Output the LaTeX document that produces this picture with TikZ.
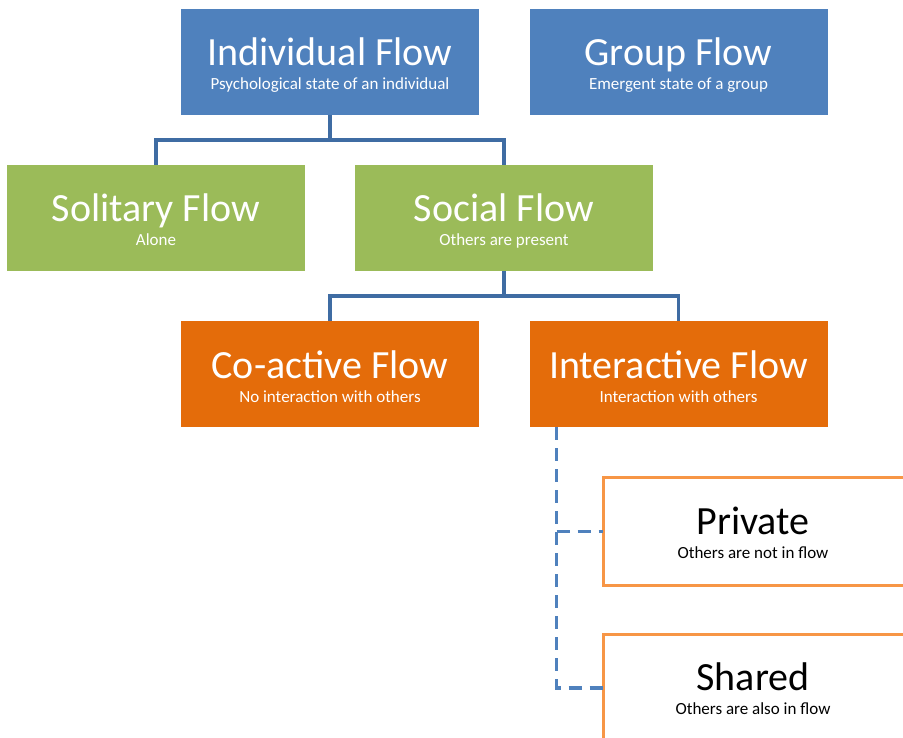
\documentclass[tikz,border=0pt]{standalone}
\usepackage{fontspec}
\setmainfont{Carlito}
\definecolor{bblue}{HTML}{4F81BD}
\definecolor{lblue}{HTML}{3F6CA3}
\definecolor{bgreen}{HTML}{9BBB59}
\definecolor{borange}{HTML}{E46C0A}
\definecolor{lorange}{HTML}{F79646}
\tikzset{
  box/.style={rectangle, minimum width=298pt, minimum height=106pt, inner sep=0pt, outer sep=0pt},
  bluebox/.style={box, fill=bblue},
  greenbox/.style={box, fill=bgreen},
  orangebox/.style={box, fill=borange},
  outbox/.style={box, draw=lorange, line width=3pt, fill=white, minimum width=320pt, minimum height=108pt},
  ttl/.style={font=\fontsize{40}{44}\selectfont, inner sep=0pt, anchor=base},
  sub/.style={font=\fontsize{17}{19}\selectfont, inner sep=0pt, anchor=base},
  conn/.style={draw=lblue, line width=3.5pt},
  dconn/.style={draw=bblue, line width=3.5pt, dash pattern=on 13pt off 8pt}
}
\begin{document}
\begin{tikzpicture}[x=1pt,y=-1pt]
\useasboundingbox (0,0) rectangle (903,738);
\clip (0,0) rectangle (903,738);
\node[bluebox] (ind) at (330,62) {};
\node[ttl,white] (indt) at ([yshift=-4pt]ind.center) {Individual Flow};
\node[sub,white] (inds) at ([yshift=-28pt]ind.center) {Psychological state of an individual};
\node[bluebox] (grp) at (678.5,62) {};
\node[ttl,white] (grpt) at ([yshift=-4pt]grp.center) {Group Flow};
\node[sub,white] (grps) at ([yshift=-28pt]grp.center) {Emergent state of a group};
\node[greenbox] (sol) at (156,218) {};
\node[ttl,white] (solt) at ([yshift=-4pt]sol.center) {Solitary Flow};
\node[sub,white] (sols) at ([yshift=-28pt]sol.center) {Alone};
\node[greenbox] (soc) at (504,218) {};
\node[ttl,white] (soct) at ([yshift=-4pt]soc.center) {Social Flow};
\node[sub,white] (socs) at ([yshift=-28pt]soc.center) {Others are present};
\node[orangebox] (coa) at (330,374) {};
\node[ttl,white] (coat) at ([yshift=-4pt]coa.center) {Co-active Flow};
\node[sub,white] (coas) at ([yshift=-28pt]coa.center) {No interaction with others};
\node[orangebox] (int) at (678.5,374) {};
\node[ttl,white] (intt) at ([yshift=-4pt]int.center) {Interactive Flow};
\node[sub,white] (ints) at ([yshift=-28pt]int.center) {Interaction with others};
\node[outbox, anchor=west] (pri) at (603,531.5) {};
\node[ttl,black] (prit) at (753,534) {Private};
\node[sub,black] (pris) at (753,558) {Others are not in flow};
\node[outbox, anchor=west] (sha) at (603,688) {};
\node[ttl,black] (shat) at (753,690.5) {Shared};
\node[sub,black] (shas) at (753,714.5) {Others are also in flow};
% connectors
\draw[conn] (ind.south) -- ++(0,25) -| (sol.north);
\draw[conn] (ind.south) ++(0,25) -| (soc.north);
\draw[conn] (soc.south) -- ++(0,25) -| (coa.north);
\draw[conn] (soc.south) ++(0,25) -| (int.north);
\coordinate (dtop) at ([xshift=27pt]int.south west);
\draw[dconn] (dtop) |- (sha.west);
\draw[dconn] (dtop |- pri.west) -- (pri.west);
\end{tikzpicture}
\end{document}
